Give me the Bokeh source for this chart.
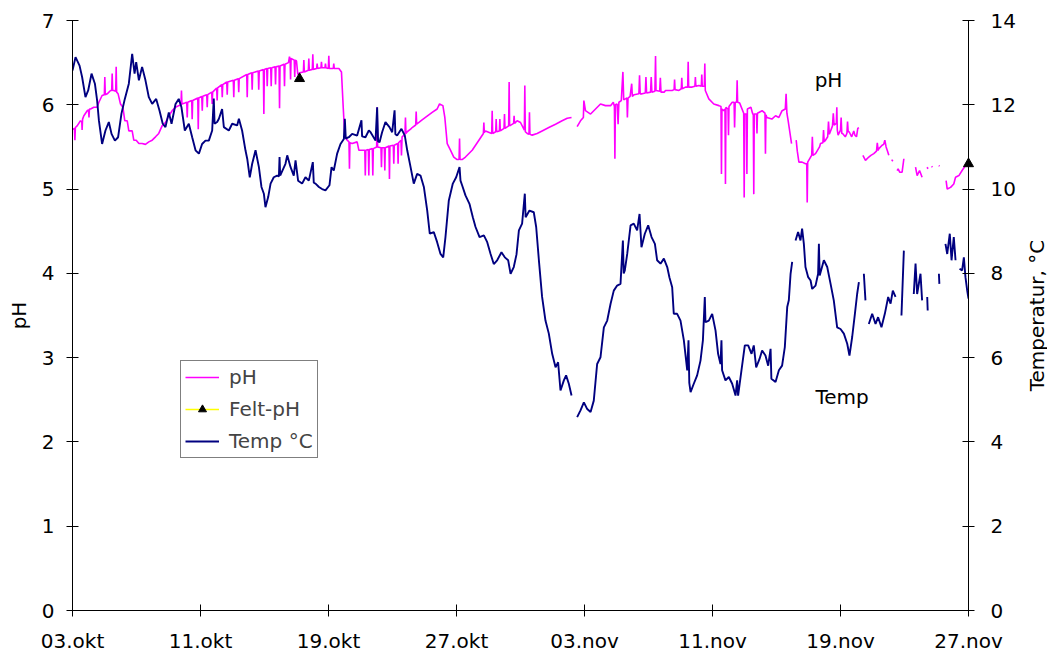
import math
from bokeh.plotting import figure
from bokeh.models import Range1d, LinearAxis, FixedTicker, Legend, LegendItem, Label
from bokeh.core.properties import value
from bokeh.embed import file_html
from bokeh.resources import INLINE

NAN = float("nan")

# x is measured in axis units (one tick interval = 8 units)
X_TICKS = [0, 8, 16, 24, 32, 40, 48, 56]
X_LABELS = ["03.okt", "11.okt", "19.okt", "27.okt", "03.nov", "11.nov", "19.nov", "27.nov"]
PH_TICKS = [0, 1, 2, 3, 4, 5, 6, 7]
TEMP_TICKS = [0, 2, 4, 6, 8, 10, 12, 14]

# ---------------- Temperature (°C) ----------------
TEMP_DAY = [
    0.00, 0.19, 0.44, 0.60, 0.81, 0.98, 1.19, 1.40, 1.54, 1.65,
    1.85, 2.06, 2.27, 2.44, 2.65, 2.85, 3.06, 3.27, 3.52, 3.73,
    3.88, 3.98, 4.15, 4.35, 4.56, 4.77, 4.98, 5.23, 5.44, 5.64,
    5.81, 6.02, 6.19, 6.44, 6.64, 6.81, 7.02, 7.27, 7.48, 7.69,
    7.90, 8.10, 8.31, 8.52, 8.73, 8.83, 8.88, 9.04, 9.15, 9.35,
    9.46, 9.77, 9.98, 10.29, 10.40, 10.60, 10.81, 10.92, 11.08, 11.23,
    11.44, 11.65, 11.81, 11.96, 12.06, 12.23, 12.38, 12.58, 12.79, 12.90,
    12.94, 12.98, 13.31, 13.42, 13.63, 13.83, 13.94, 14.10, 14.35, 14.56,
    14.77, 15.02, 15.08, 15.19, 15.40, 15.60, 15.81, 16.06, 16.19, 16.33,
    16.54, 16.75, 16.96, 17.02, 17.08, 17.27, 17.48, 17.79, 18.06, 18.10,
    18.31, 18.52, 18.63, 18.94, 19.04, 19.10, 19.19, 19.35, 19.56, 19.81,
    19.98, 20.13, 20.18, 20.29, 20.56, 20.77, 20.92, 21.13, 21.33, 21.54,
    21.75, 21.96, 22.17, 22.33, 22.58, 22.79, 23.00, 23.17, 23.31, 23.52,
    23.77, 23.98, 24.19, 24.25, 24.35, 24.56, 24.81, 25.02, 25.19, 25.44,
    25.71, 25.92, 26.13, 26.33, 26.54, 26.81, 27.02, 27.23, 27.38, 27.58,
    27.75, 27.90, 28.10, 28.27, 28.32, 28.56, 28.83, 28.98, 29.15, 29.35,
    29.56, 29.77, 29.98, 30.19, 30.35, 30.50, 30.71, 30.85, 31.02, 31.19,
    31.35, 31.54, 31.75, 31.96, 32.17, 32.38, 32.58, 32.79, 33.00, 33.21,
    33.42, 33.63, 33.83, 34.04, 34.25, 34.40, 34.45, 34.52, 34.67, 34.88,
    35.08, 35.29, 35.44, 35.56, 35.77, 35.98, 36.19, 36.40, 36.54, 36.75,
    36.96, 37.17, 37.31, 37.48, 37.58, 37.79, 38.00, 38.21, 38.42, 38.50,
    38.55, 38.63, 38.83, 39.04, 39.25, 39.40, 39.52, 39.56, 39.77, 39.98,
    40.19, 40.35, 40.50, 40.56, 40.60, 40.81, 41.02, 41.23, 41.44, 41.54,
    41.60, 41.81, 42.02, 42.23, 42.44, 42.58, 42.73, 42.94, 43.10, 43.31,
    43.48, 43.63, 43.68, 43.94, 44.15, 44.35, 44.52, 44.67, 44.77, 44.88,
    44.98, 45.08, 45.19, 45.35, 45.50, 45.60, 45.71, 45.81, 45.98, 46.13,
    46.23, 46.44, 46.60, 46.65, 46.70, 46.96, 47.17, 47.38, 47.58, 47.79,
    48.00, 48.21, 48.42, 48.56, 48.73, 48.90, 49.04, 49.15, 49.30, 49.46,
    49.56, 49.66, 49.77, 49.98, 50.19, 50.35, 50.56, 50.77, 50.98, 51.13,
    51.27, 51.44, 51.60, 51.81, 51.96, 52.30, 52.58, 52.69, 52.79, 53.00,
    53.10, 53.25, 53.42, 53.45, 53.80, 54.15, 54.18, 54.40, 54.56, 54.67,
    54.83, 54.94, 55.08, 55.19, 55.30, 55.44, 55.60, 55.71, 55.81, 55.92,
    56.00,
]
TEMP_C = [
    12.81, 13.13, 12.93, 12.66, 12.18, 12.34, 12.74, 12.50, 12.10, 11.63,
    11.07, 11.39, 11.59, 11.31, 11.15, 11.23, 11.79, 12.14, 12.50, 13.21,
    12.74, 13.01, 12.58, 12.90, 12.58, 12.18, 12.02, 12.14, 11.86, 11.55,
    11.47, 11.82, 11.55, 12.02, 12.14, 11.94, 11.39, 11.55, 11.23, 10.92,
    10.84, 11.07, 11.15, 11.15, 11.39, 12.15, 11.55, 11.59, 11.67, 11.90,
    11.47, 11.39, 11.55, 11.51, 11.67, 11.39, 10.92, 10.72, 10.28, 10.60,
    10.92, 10.52, 10.05, 9.89, 9.57, 9.81, 10.13, 10.28, 10.32, 10.30,
    10.76, 10.32, 10.60, 10.80, 10.52, 10.32, 10.68, 10.20, 10.13, 10.28,
    10.20, 10.64, 10.15, 10.13, 10.05, 10.00, 9.97, 10.09, 10.52, 10.44,
    10.84, 11.07, 11.19, 11.67, 11.20, 11.23, 11.31, 11.27, 11.63, 11.25,
    11.23, 11.39, 11.35, 11.15, 11.94, 11.13, 11.11, 11.35, 11.59, 11.47,
    11.35, 11.87, 11.30, 11.27, 11.43, 11.27, 10.92, 10.52, 10.13, 10.36,
    10.32, 10.05, 9.49, 8.94, 8.98, 8.74, 8.46, 8.38, 8.86, 9.73,
    10.13, 10.28, 10.52, 10.20, 10.09, 9.85, 9.65, 9.33, 9.10, 8.86,
    8.90, 8.74, 8.46, 8.22, 8.31, 8.50, 8.38, 8.31, 7.99, 8.15,
    8.45, 9.02, 9.18, 9.89, 9.33, 9.49, 9.45, 9.10, 8.31, 7.44,
    6.88, 6.57, 6.09, 5.77, 5.89, 5.22, 5.46, 5.58, 5.38, 5.10,
    NAN, 4.59, 4.75, 4.94, 4.78, 4.71, 4.98, 5.85, 6.01, 6.72,
    6.88, 7.28, 7.59, 7.71, 7.75, 8.78, 8.00, 8.07, 8.46, 9.14,
    9.18, 9.02, 9.41, 8.62, 8.94, 9.14, 8.86, 8.70, 8.31, 8.23,
    8.35, 8.15, 7.90, 7.67, 7.04, 7.04, 6.88, 6.41, 5.70, 6.41,
    5.40, 5.18, 5.38, 5.58, 5.93, 6.41, 7.44, 6.84, 6.88, 7.04,
    6.64, 6.09, 5.85, 6.41, 5.70, 5.46, 5.54, 5.38, 5.10, 5.46,
    5.10, 5.70, 6.29, 6.29, 6.09, 6.29, 5.77, 5.97, 6.17, 6.05,
    5.81, 6.21, 5.50, 5.42, 5.70, 5.81, 6.25, 7.20, 7.36, 7.99,
    8.27, NAN, 8.78, 8.98, 8.78, 9.06, 8.70, 8.15, 7.91, 7.83,
    7.63, 7.71, 7.99, 8.70, 7.95, 8.31, 8.15, 7.75, 7.36, 6.72,
    6.68, 6.57, 6.33, 6.05, 6.49, 7.04, 7.51, 7.79, NAN, 7.99,
    7.36, NAN, 6.80, 7.04, 6.80, 6.96, 6.72, 7.04, 7.44, 7.28,
    7.59, 7.44, NAN, 7.00, 8.54, NAN, 7.51, 8.23, 7.51, 7.99,
    7.36, NAN, 7.44, 7.12, NAN, 7.99, 7.75, NAN, 8.70, 8.46,
    8.94, 8.31, 8.86, 8.31, NAN, 8.11, 8.07, 8.38, 7.91, 7.59,
    7.40,
]

# ---------------- pH (logger) ----------------
PH_DAY = [
    0.00, 0.12, 0.15, 0.18, 0.29, 0.50, 0.58, 0.60, 0.63, 0.71,
    0.92, 1.00, 1.03, 1.06, 1.13, 1.33, 1.54, 1.65, 1.85, 1.99,
    2.02, 2.05, 2.17, 2.38, 2.45, 2.48, 2.51, 2.58, 2.70, 2.73,
    2.76, 2.85, 3.00, 3.15, 3.27, 3.42, 3.52, 3.73, 3.83, 3.98,
    4.15, 4.35, 4.56, 4.77, 4.98, 5.19, 5.39, 5.60, 5.81, 6.02,
    6.23, 6.44, 6.64, 6.78, 6.81, 6.84, 7.02,
    7.14, 7.17, 7.20, 7.45, 7.48, 7.51, 7.83, 7.86, 7.89,
    8.08, 8.11, 8.14, 8.39, 8.42, 8.45, 8.70, 8.73, 8.76,
    9.01, 9.04, 9.07, 9.33, 9.36, 9.39, 9.64, 9.67, 9.70,
    10.05, 10.08, 10.11, 10.36, 10.39, 10.42, 10.89, 10.92, 10.95,
    11.20, 11.23, 11.26, 11.61, 11.64, 11.67, 11.93, 11.96, 11.99,
    12.14, 12.17, 12.20, 12.39, 12.42, 12.45, 12.66, 12.69, 12.72,
    12.91, 12.94, 12.97, 13.22, 13.25, 13.28,
    13.50, 13.56, 13.60, 13.63, 13.66, 13.86, 13.89, 13.92, 14.00,
    14.08, 14.20, 14.43, 14.46, 14.49, 14.74, 14.77, 14.80, 14.99, 15.02,
    15.05, 15.26, 15.29, 15.32, 15.53, 15.56, 15.59, 15.78, 15.81, 15.84,
    15.99, 16.02, 16.05, 16.30, 16.33, 16.36, 16.65, 16.81, 16.92, 17.02,
    17.17,
    17.28, 17.31, 17.34, 17.48, 17.79, 17.90, 18.15, 18.27, 18.30, 18.33,
    18.49, 18.52, 18.55, 18.74, 18.77, 18.80, 19.01, 19.04, 19.07, 19.28,
    19.31, 19.34, 19.49, 19.52, 19.55, 19.78, 19.81, 19.84, 20.05, 20.08,
    20.11, 20.32, 20.35, 20.38, 20.53, 20.56, 20.60, 20.78, 20.81, 20.84,
    20.92,
    21.13, 21.23, 21.45, 21.48, 21.51, 21.65, 21.85, 22.06, 22.27, 22.48,
    22.79, 22.94, 23.15, 23.27, 23.42, 23.63, 23.83, 24.04, 24.16, 24.19,
    24.22, 24.35, 24.56, 24.98, 25.40, 25.68, 25.71, 25.74, 25.81,
    26.20, 26.23, 26.26, 26.45, 26.48, 26.51, 26.68, 26.71, 26.74, 26.97,
    27.00, 27.03, 27.26, 27.29, 27.32, 27.57, 27.60, 27.63, 27.79, 28.00,
    28.21, 28.24, 28.27, 28.30, 28.42, 28.53, 28.56, 28.59, 28.73, 29.04,
    29.35, 29.77, 30.19, 30.60, 30.92, 31.19, 31.35,
    31.54, 31.75, 31.93, 31.96, 32.06, 32.38, 32.69, 33.00, 33.31, 33.63,
    33.80, 33.87, 33.90, 33.93, 34.04, 34.10, 34.15, 34.30, 34.40, 34.45,
    34.56, 34.65, 34.68, 34.72, 34.85, 34.95, 34.99, 35.10, 35.40, 35.44,
    35.48, 35.60, 35.80, 35.84, 35.88, 36.13, 36.17, 36.21, 36.40, 36.44,
    36.47, 36.70, 36.74, 36.78, 36.98,
    37.06, 37.48, 37.60, 37.63, 37.66, 37.90, 38.05, 38.08, 38.11, 38.31,
    38.45, 38.48, 38.51, 38.73, 38.90, 38.93, 38.96, 39.15, 39.30, 39.33,
    39.36, 39.49, 39.52, 39.55, 39.77, 40.08, 40.40, 40.53, 40.56, 40.59,
    40.70, 40.78, 40.81, 40.84, 40.97, 41.00, 41.03, 41.23, 41.35, 41.38,
    41.42, 41.51, 41.54, 41.57, 41.70, 41.95, 41.98, 42.01, 42.12, 42.15,
    42.18, 42.40, 42.50, 42.55, 42.58, 42.61, 42.75, 42.78, 42.81, 43.10,
    43.28, 43.31, 43.34, 43.40, 43.71, 43.94, 44.15, 44.35, 44.55, 44.60,
    44.65, 44.73, 44.94, 45.10,
    45.23, 45.30, 45.40, 45.60, 45.81, 45.89, 45.92, 45.95, 46.13, 46.20,
    46.24, 46.28, 46.44, 46.69, 46.75, 46.90, 46.94, 46.98, 47.06, 47.20,
    47.25, 47.30, 47.38, 47.50, 47.55, 47.60, 47.74, 47.77, 47.80, 47.85,
    48.00, 48.04, 48.08, 48.13, 48.30, 48.40, 48.44, 48.48, 48.54, 48.70,
    48.83, 48.90, 49.00, 49.08, 49.15, 49.30,
    49.40, 49.56, 49.77, 49.90, 50.08, 50.25, 50.30, 50.35, 50.40, 50.60,
    50.70, 50.77, 50.85, 50.92, 51.02, 51.10,
    51.20, 51.27, 51.40,
    51.54, 51.60, 51.70, 51.85, 51.96, 52.30,
    52.69, 52.79, 52.94, 53.10, 53.25,
    53.42, 53.46, 53.60,
    53.70, 53.74, 53.90,
    54.15, 54.19, 54.40,
    54.60, 54.67, 54.88, 55.08, 55.19, 55.40, 55.60, 55.81, 56.00,
]
PH_VALUE = [
    5.71, 5.72, 5.58, 5.73, 5.75, 5.81, 5.80, 5.70, 5.83, 5.87,
    5.93, 5.94, 5.85, 5.95, 5.95, 5.97, 5.97, 6.03, 6.11, 6.12,
    6.33, 6.12, 6.13, 6.17, 6.17, 6.37, 6.17, 6.17, 6.16, 6.45,
    6.15, 6.13, 6.01, 5.97, 5.81, 5.81, 5.69, 5.69, 5.58, 5.58,
    5.54, 5.54, 5.53, 5.56, 5.58, 5.62, 5.66, 5.75, 5.79, 5.87,
    5.93, 5.97, 5.99, 6.00, 6.17, 6.01, 6.02,
    6.03, 5.85, 6.03, 6.05, 5.83, 6.05, 6.08, 5.71, 6.08,
    6.10, 5.93, 6.10, 6.12, 5.97, 6.12, 6.15, 6.01, 6.15,
    6.20, 6.05, 6.20, 6.24, 6.09, 6.24, 6.27, 6.12, 6.27,
    6.29, 6.09, 6.29, 6.31, 6.15, 6.31, 6.36, 6.09, 6.36,
    6.38, 6.18, 6.38, 6.40, 6.18, 6.40, 6.42, 5.89, 6.42,
    6.43, 6.22, 6.43, 6.44, 6.22, 6.44, 6.45, 6.24, 6.45,
    6.46, 5.96, 6.46, 6.48, 6.22, 6.48,
    6.50, 6.57, 6.55, 6.30, 6.55, 6.53, 6.33, 6.53, 6.52,
    6.36, 6.38, 6.39, 6.53, 6.39, 6.41, 6.55, 6.41, 6.42, 6.60,
    6.42, 6.43, 6.49, 6.43, 6.44, 6.51, 6.44, 6.44, 6.49, 6.44,
    6.43, 6.58, 6.43, 6.43, 6.49, 6.43, 6.43, 6.39, 5.97, 5.62,
    5.58,
    5.56, 5.24, 5.55, 5.54, 5.56, 5.46, 5.46, 5.46, 5.16, 5.46,
    5.47, 5.16, 5.47, 5.48, 5.16, 5.48, 5.50, 5.97, 5.50, 5.49,
    5.26, 5.49, 5.49, 5.22, 5.49, 5.51, 5.12, 5.51, 5.52, 5.30,
    5.52, 5.54, 5.30, 5.55, 5.58, 5.40, 5.62, 5.65, 5.85, 5.66,
    5.68,
    5.71, 5.73, 5.76, 5.92, 5.77, 5.79, 5.82, 5.85, 5.88, 5.91,
    5.95, 6.01, 5.99, 5.85, 5.54, 5.46, 5.38, 5.35, 5.35, 5.60,
    5.35, 5.35, 5.38, 5.46, 5.58, 5.66, 5.79, 5.67, 5.69,
    5.66, 5.93, 5.66, 5.68, 5.83, 5.68, 5.69, 5.83, 5.69, 5.72,
    5.89, 5.72, 5.75, 6.27, 5.75, 5.78, 5.87, 5.78, 5.81, 5.79,
    5.71, 5.70, 6.23, 5.68, 5.66, 5.65, 5.91, 5.65, 5.64, 5.66,
    5.69, 5.73, 5.77, 5.81, 5.84, 5.85, NAN,
    5.74, 5.81, 5.85, 6.05, 5.93, 5.89, 5.95, 6.01, 5.99, 5.99,
    6.03, 5.98, 5.36, 6.00, 6.01, 5.77, 6.03, 6.05, 6.39, 6.06,
    6.07, 6.08, 5.85, 6.08, 6.10, 6.25, 6.10, 6.12, 6.13, 6.35,
    6.13, 6.13, 6.14, 6.33, 6.14, 6.15, 6.33, 6.15, 6.16, 6.58,
    6.17, 6.16, 6.32, 6.15, 6.15,
    6.17, 6.17, 6.18, 6.30, 6.18, 6.17, 6.19, 6.32, 6.19, 6.21,
    6.21, 6.51, 6.21, 6.21, 6.22, 6.33, 6.22, 6.23, 6.22, 6.36,
    6.22, 6.22, 6.49, 6.17, 6.07, 6.01, 5.99, 5.98, 5.18, 5.95,
    5.93, 5.95, 5.06, 5.97, 5.95, 5.64, 5.98, 6.03, 6.03, 5.73,
    6.03, 6.03, 6.29, 6.03, 6.02, 5.90, 4.90, 5.89, 5.89, 5.18,
    5.95, 5.97, 5.90, 5.88, 4.94, 5.89, 5.89, 5.66, 5.90, 5.93,
    5.90, 5.42, 5.88, 5.85, 5.83, 5.87, 5.85, 5.93, 5.95, 6.13,
    5.90, 5.81, 5.54, NAN,
    5.58, 5.45, 5.32, 5.32, 5.30, 5.30, 4.84, 5.32, 5.38, 5.40,
    5.62, 5.40, 5.42, 5.50, 5.54, 5.55, 5.70, 5.56, 5.58, 5.62,
    5.80, 5.65, 5.69, 5.75, 5.90, 5.76, 5.78, 5.97, 5.70, 5.64,
    5.70, 5.85, 5.66, 5.66, 5.62, 5.66, 5.80, 5.68, 5.68, 5.62,
    5.69, 5.64, 5.62, 5.72, 5.73, NAN,
    5.40, 5.34, 5.38, 5.40, 5.42, 5.45, 5.55, 5.46, 5.48, 5.52,
    5.53, 5.58, 5.50, 5.46, 5.40, NAN,
    5.35, 5.33, NAN,
    5.22, 5.24, 5.20, 5.20, 5.36, NAN,
    5.26, 5.16, 5.22, 5.14, NAN,
    5.26, 5.24, NAN,
    5.27, 5.26, NAN,
    5.28, 5.27, NAN,
    5.10, 5.00, 5.02, 5.06, 5.14, 5.16, 5.22, 5.28, 5.32,
]

# ---------------- Field pH (Felt-pH) ----------------
FELT_DAY = [14.19, 56.00]
FELT_PH = [6.31, 5.30]

FONT = "DejaVu Sans"
FS = "20px"

p = figure(
    width=1047, height=655,
    x_range=Range1d(0, 56), y_range=Range1d(0, 7),
    output_backend="svg", toolbar_location=None,
    min_border_left=72, min_border_right=79,
    min_border_top=20, min_border_bottom=45,
    background_fill_color="white", border_fill_color="white",
)
p.outline_line_color = None
p.xgrid.visible = False
p.ygrid.visible = False
p.extra_y_ranges = {"temp": Range1d(0, 14)}

for ax in (p.xaxis[0], p.yaxis[0]):
    ax.major_tick_in = 6
    ax.major_tick_out = 6
    ax.minor_tick_in = 0
    ax.minor_tick_out = 0
    ax.axis_line_color = "black"
    ax.major_tick_line_color = "black"
    ax.major_label_text_font = FONT
    ax.major_label_text_font_size = FS
    ax.major_label_text_color = "black"
    ax.axis_label_text_font = FONT
    ax.axis_label_text_font_size = FS
    ax.axis_label_text_font_style = "normal"
    ax.axis_label_text_color = "black"

p.xaxis.ticker = FixedTicker(ticks=X_TICKS)
p.xaxis.major_label_overrides = {t: l for t, l in zip(X_TICKS, X_LABELS)}
p.xaxis.major_label_standoff = 12

p.yaxis.ticker = FixedTicker(ticks=PH_TICKS)
p.yaxis.axis_label = "pH"
p.yaxis.major_label_standoff = 12
p.yaxis.axis_label_standoff = 8

raxis = LinearAxis(y_range_name="temp", ticker=FixedTicker(ticks=TEMP_TICKS))
raxis.major_tick_in = 6
raxis.major_tick_out = 6
raxis.minor_tick_in = 0
raxis.minor_tick_out = 0
raxis.major_label_standoff = 16
raxis.major_label_text_font = FONT
raxis.major_label_text_font_size = FS
raxis.major_label_text_color = "black"
p.add_layout(raxis, "right")

r_ph = p.line(PH_DAY, PH_VALUE, line_color="#FF00FF", line_width=1.6)
r_temp = p.line(TEMP_DAY, TEMP_C, line_color="#000080", line_width=1.9, y_range_name="temp")
r_felt_line = p.line([NAN], [NAN], line_color="#FFFF00", line_width=1.6)
r_felt = p.scatter(FELT_DAY, FELT_PH, marker="triangle", size=10,
                   fill_color="black", line_color="black", level="overlay")

legend = Legend(
    items=[
        LegendItem(label="pH", renderers=[r_ph]),
        LegendItem(label="Felt-pH", renderers=[r_felt_line, r_felt]),
        LegendItem(label="Temp °C", renderers=[r_temp]),
    ],
    location=(108, 152), margin=0, padding=4, spacing=8,
    glyph_width=34, glyph_height=20, label_height=20, label_standoff=10,
    label_text_font=FONT, label_text_font_size=FS,
    border_line_color="black", border_line_width=1,
    background_fill_color="white", background_fill_alpha=1.0,
)
p.add_layout(legend)

p.add_layout(Label(x=47.25, y=6.29, text="pH", text_align="center", text_baseline="middle",
                   text_font=FONT, text_font_size=FS, text_color="black"))
p.add_layout(Label(x=48.1, y=2.53, text="Temp", text_align="center", text_baseline="middle",
                   text_font=FONT, text_font_size=FS, text_color="black"))
# right-hand axis title, reading bottom to top as in the original (overlay level: not clipped)
p.text(x=[60.25], y=[3.5], text=["Temperatur, °C"], angle=math.pi / 2,
       text_align="center", text_baseline="middle",
       text_font=value(FONT), text_font_size=value(FS), text_color="black",
       level="overlay")

open("out.html", "w").write(file_html(p, INLINE))
